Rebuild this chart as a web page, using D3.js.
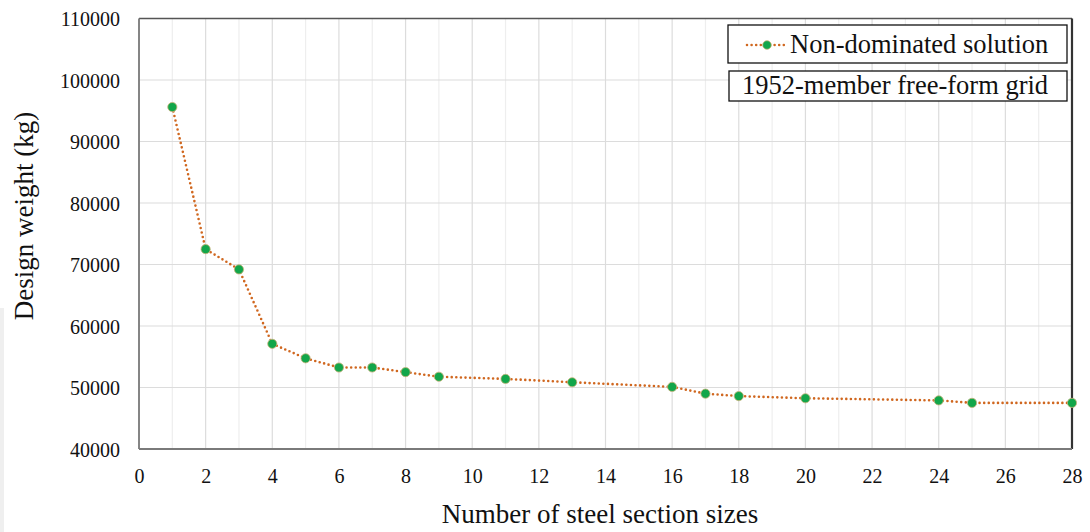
<!DOCTYPE html>
<html>
<head>
<meta charset="utf-8">
<script src="https://cdn.jsdelivr.net/npm/d3@7"></script>
<style>
  html, body { margin: 0; padding: 0; background: #fff; }
  svg text { font-family: "Liberation Serif", Tinos, "Times New Roman", Times, "DejaVu Serif", serif !important; }
</style>
</head>
<body>
<svg id="chart" width="1090" height="532"></svg>
<script>
// Number of distinct steel section sizes and the corresponding design weight (kg)
const sectionSizes = [1, 2, 3, 4, 5, 6, 7, 8, 9, 11, 13, 16, 17, 18, 20, 24, 25, 28];
const designWeights = [95600, 72500, 69200, 57100, 54750, 53250, 53250, 52500, 51750, 51400, 50850, 50100, 49000, 48600, 48250, 47900, 47500, 47500];

const xTicks = d3.range(0, 29, 2);
const xMinorTicks = d3.range(0, 29, 1);
const yTicks = d3.range(40000, 110001, 10000);

const seriesName = "Non-dominated solution";
const caption = "1952-member free-form grid";
const xTitle = "Number of steel section sizes";
const yTitle = "Design weight (kg)";

const svg = d3.select("#chart");
const margin = { left: 139, right: 18, top: 18.5, bottom: 83 };
const W = 1090, H = 532;

const x = d3.scaleLinear().domain([0, 28]).range([margin.left, W - margin.right]);
const y = d3.scaleLinear().domain([40000, 110000]).range([H - margin.bottom, margin.top]);

// faint strip along the lower left edge
svg.append("rect").attr("x", 0).attr("y", 308).attr("width", 4).attr("height", 224).attr("fill", "#efefef");

// grid: light minor verticals, darker major verticals and horizontals
const grid = svg.append("g");
grid.selectAll(".vminor").data(xMinorTicks.filter(d => d % 2 === 1)).join("line")
  .attr("x1", d => x(d)).attr("x2", d => x(d))
  .attr("y1", y(110000)).attr("y2", y(40000))
  .attr("stroke", "#eeeeee").attr("stroke-width", 1.2);
grid.selectAll(".vmajor").data(xTicks).join("line")
  .attr("x1", d => x(d)).attr("x2", d => x(d))
  .attr("y1", y(110000)).attr("y2", y(40000))
  .attr("stroke", "#dcdcdc").attr("stroke-width", 1.2);
grid.selectAll(".hmajor").data(yTicks).join("line")
  .attr("x1", x(0)).attr("x2", x(28))
  .attr("y1", d => y(d)).attr("y2", d => y(d))
  .attr("stroke", "#dcdcdc").attr("stroke-width", 1.2);

// frame
svg.append("line").attr("x1", x(0)).attr("x2", x(28)).attr("y1", y(110000)).attr("y2", y(110000))
  .attr("stroke", "#555").attr("stroke-width", 1.5);
svg.append("line").attr("x1", x(28)).attr("x2", x(28)).attr("y1", y(110000)).attr("y2", y(40000))
  .attr("stroke", "#333").attr("stroke-width", 2.2);
svg.append("line").attr("x1", x(0)).attr("x2", x(0)).attr("y1", y(110000)).attr("y2", y(40000))
  .attr("stroke", "#7a7a7a").attr("stroke-width", 1.8);
svg.append("line").attr("x1", x(0)).attr("x2", x(28)).attr("y1", y(40000)).attr("y2", y(40000))
  .attr("stroke", "#7a7a7a").attr("stroke-width", 1.8);

// axes (labels only)
const xAxis = svg.append("g").attr("transform", `translate(0,${y(40000)})`)
  .call(d3.axisBottom(x).tickValues(xTicks).tickSize(0).tickPadding(20).tickFormat(d3.format("d")));
const yAxis = svg.append("g").attr("transform", `translate(${x(0)},0)`)
  .call(d3.axisLeft(y).tickValues(yTicks).tickSize(0).tickPadding(19).tickFormat(d3.format("d")));
[xAxis, yAxis].forEach(a => {
  a.select(".domain").remove();
  a.attr("font-family", null);
  a.selectAll("text").attr("font-size", 20).attr("fill", "#111");
});
yAxis.selectAll("text").attr("dy", "0.35em");

// axis titles
svg.append("text").attr("x", 600).attr("y", 523).attr("text-anchor", "middle")
  .attr("font-size", 27).attr("fill", "#111").text(xTitle);
svg.append("text").attr("transform", "translate(33,216) rotate(-90)").attr("text-anchor", "middle")
  .attr("font-size", 27).attr("fill", "#111").text(yTitle);

// series
const pts = sectionSizes.map((s, i) => [s, designWeights[i]]);
const lineColor = "#d0671f";
const markerColor = "#12a64a";
svg.append("path").datum(pts)
  .attr("d", d3.line().x(d => x(d[0])).y(d => y(d[1])))
  .attr("fill", "none").attr("stroke", lineColor).attr("stroke-width", 2.6)
  .attr("stroke-linecap", "round").attr("stroke-dasharray", "0 4.6");
svg.append("g").selectAll("circle").data(pts).join("circle")
  .attr("cx", d => x(d[0])).attr("cy", d => y(d[1])).attr("r", 4.6)
  .attr("fill", markerColor).attr("stroke", "#c9b27a").attr("stroke-width", 0.8);

// legend
const lg = svg.append("g");
lg.append("rect").attr("x", 728).attr("y", 25).attr("width", 339).attr("height", 38)
  .attr("fill", "#fff").attr("stroke", "#111").attr("stroke-width", 1.3);
lg.append("line").attr("x1", 747).attr("x2", 786).attr("y1", 45).attr("y2", 45)
  .attr("stroke", lineColor).attr("stroke-width", 2.6).attr("stroke-linecap", "round").attr("stroke-dasharray", "0 4.6");
lg.append("circle").attr("cx", 767).attr("cy", 45).attr("r", 4.3).attr("fill", markerColor)
  .attr("stroke", "#c9b27a").attr("stroke-width", 0.8);
lg.append("text").attr("x", 790).attr("y", 53).attr("font-size", 26.5).attr("fill", "#111").text(seriesName);

lg.append("rect").attr("x", 729).attr("y", 71).attr("width", 338).attr("height", 30)
  .attr("fill", "#fff").attr("stroke", "#111").attr("stroke-width", 1.3);
lg.append("text").attr("x", 742).attr("y", 94).attr("font-size", 26.5).attr("fill", "#111").text(caption);
</script>
</body>
</html>
